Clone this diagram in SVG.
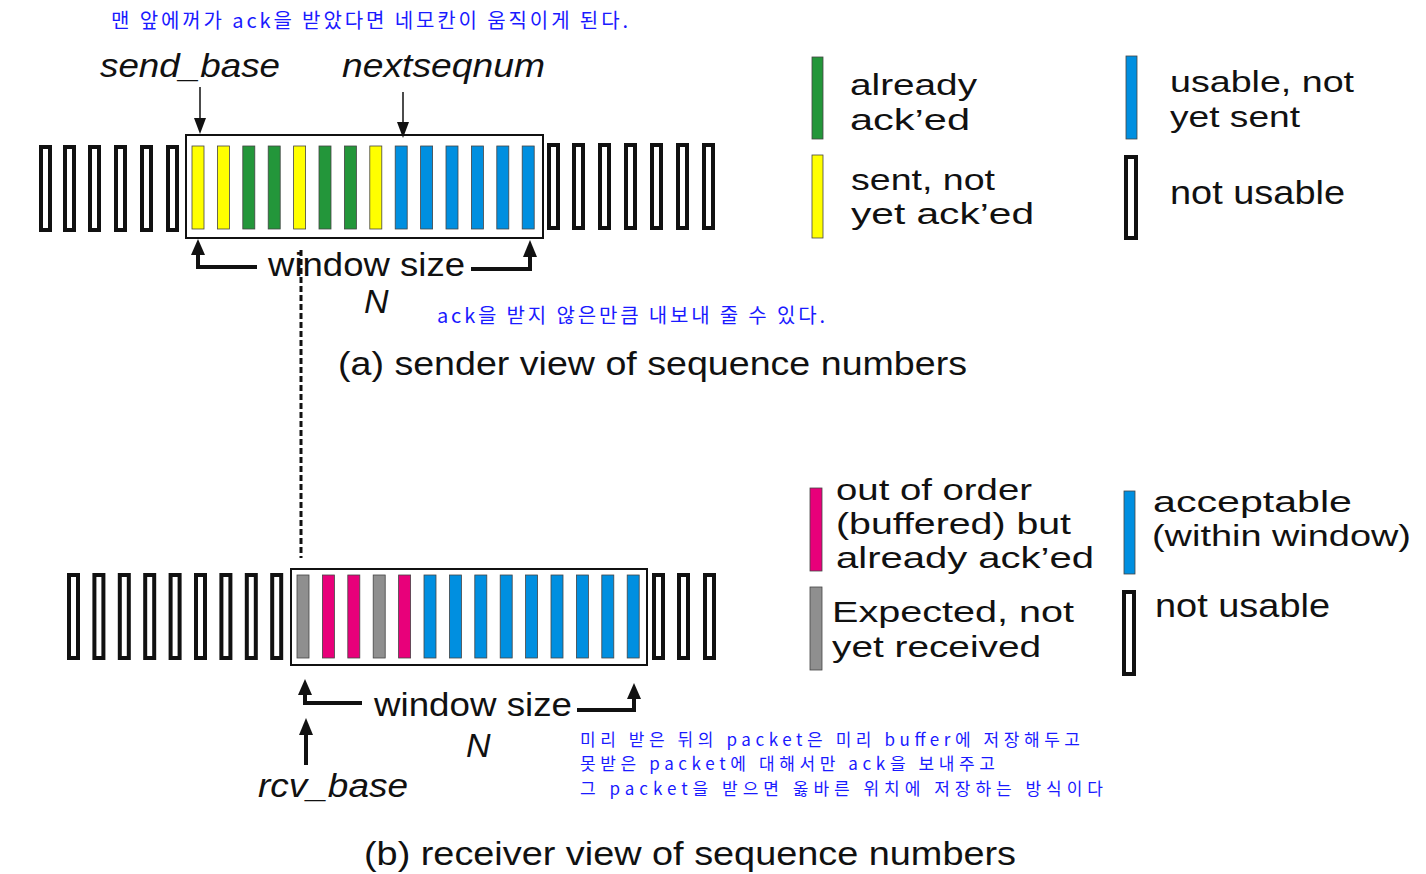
<svg xmlns="http://www.w3.org/2000/svg" width="1426" height="874" viewBox="0 0 1426 874">
<style>
.nu{fill:#fff;stroke:#111;stroke-width:4}
.c{stroke:#444;stroke-width:0.8}
.y{fill:#ffff00}.g{fill:#23963a}.b{fill:#008fe0}.p{fill:#e8007a}.gr{fill:#8f8f8f}
.win{fill:#fff;stroke:#111;stroke-width:2}
.t{font-family:"Liberation Sans",Arial,sans-serif;font-size:34px;fill:#111}
.lg{font-size:30px}
.it{font-style:italic}
.k{font-family:"Noto Sans CJK KR","Noto Sans",sans-serif;font-size:20px;fill:#1a1aff}
.ks{font-size:17px}
.thin{stroke:#111;stroke-width:1.5;fill:none}
.thick{stroke:#111;stroke-width:4;fill:none}
.head{fill:#111}
</style>

<!-- annotations -->
<g id="notes">
<text class="k" x="111" y="28" textLength="517" lengthAdjust="spacing">맨 앞에꺼가 ack을 받았다면 네모칸이 움직이게 된다.</text>
<text class="k" x="437" y="323" textLength="388" lengthAdjust="spacing">ack을 받지 않은만큼 내보내 줄 수 있다.</text>
<text class="k ks" x="580" y="746" textLength="500" lengthAdjust="spacing">미리 받은 뒤의 packet은 미리 buffer에 저장해두고</text>
<text class="k ks" x="580" y="770" textLength="415" lengthAdjust="spacing">못받은 packet에 대해서만 ack을 보내주고</text>
<text class="k ks" x="580" y="795" textLength="523" lengthAdjust="spacing">그 packet을 받으면 옳바른 위치에 저장하는 방식이다</text>
</g>

<!-- sender labels -->
<g id="sender-labels">
<text class="t it" x="100" y="77" textLength="180" lengthAdjust="spacingAndGlyphs">send_base</text>
<text class="t it" x="342" y="77" textLength="203" lengthAdjust="spacingAndGlyphs">nextseqnum</text>
<text class="t" x="268" y="276" textLength="197" lengthAdjust="spacingAndGlyphs">window size</text>
<text class="t it" x="364" y="313" font-size="32">N</text>
<text class="t" x="338" y="375" textLength="629" lengthAdjust="spacingAndGlyphs">(a) sender view of sequence numbers</text>
</g>

<!-- sender row -->
<g id="sender-row">
<rect class="nu" x="41" y="147" width="9" height="83"/>
<rect class="nu" x="65" y="147" width="9" height="83"/>
<rect class="nu" x="90" y="147" width="9" height="83"/>
<rect class="nu" x="116" y="147" width="9" height="83"/>
<rect class="nu" x="142" y="147" width="9" height="83"/>
<rect class="nu" x="168" y="147" width="9" height="83"/>
<rect class="win" x="186" y="135" width="357" height="103"/>
<rect class="c y" x="192" y="146" width="12" height="83"/>
<rect class="c y" x="217.4" y="146" width="12" height="83"/>
<rect class="c g" x="242.8" y="146" width="12" height="83"/>
<rect class="c g" x="268.2" y="146" width="12" height="83"/>
<rect class="c y" x="293.6" y="146" width="12" height="83"/>
<rect class="c g" x="319" y="146" width="12" height="83"/>
<rect class="c g" x="344.4" y="146" width="12" height="83"/>
<rect class="c y" x="369.8" y="146" width="12" height="83"/>
<rect class="c b" x="395.2" y="146" width="12" height="83"/>
<rect class="c b" x="420.6" y="146" width="12" height="83"/>
<rect class="c b" x="446" y="146" width="12" height="83"/>
<rect class="c b" x="471.4" y="146" width="12" height="83"/>
<rect class="c b" x="496.8" y="146" width="12" height="83"/>
<rect class="c b" x="522.2" y="146" width="12" height="83"/>
<rect class="nu" x="549" y="145" width="9" height="83"/>
<rect class="nu" x="574" y="145" width="9" height="83"/>
<rect class="nu" x="600" y="145" width="9" height="83"/>
<rect class="nu" x="626" y="145" width="9" height="83"/>
<rect class="nu" x="652" y="145" width="9" height="83"/>
<rect class="nu" x="678" y="145" width="9" height="83"/>
<rect class="nu" x="704" y="145" width="9" height="83"/>
</g>

<!-- sender legend -->
<g id="legend-sender">
<rect class="c g" x="812" y="57" width="11" height="82"/>
<text class="t lg" x="850" y="95" textLength="127" lengthAdjust="spacingAndGlyphs">already</text>
<text class="t lg" x="850" y="130" textLength="120" lengthAdjust="spacingAndGlyphs">ack’ed</text>
<rect class="c y" x="812" y="155" width="11" height="83"/>
<text class="t lg" x="851" y="190" textLength="144" lengthAdjust="spacingAndGlyphs">sent, not</text>
<text class="t lg" x="851" y="224" textLength="183" lengthAdjust="spacingAndGlyphs">yet ack’ed</text>
<rect class="c b" x="1126" y="56" width="11" height="83"/>
<text class="t lg" x="1170" y="92" textLength="184" lengthAdjust="spacingAndGlyphs">usable, not</text>
<text class="t lg" x="1170" y="127" textLength="130" lengthAdjust="spacingAndGlyphs">yet sent</text>
<rect class="nu" x="1126" y="157" width="10" height="81"/>
<text class="t" x="1170" y="204" textLength="175" lengthAdjust="spacingAndGlyphs">not usable</text>
</g>

<!-- receiver row -->
<g id="receiver-row">
<rect class="nu" x="69" y="575" width="9" height="83"/>
<rect class="nu" x="94.4" y="575" width="9" height="83"/>
<rect class="nu" x="119.8" y="575" width="9" height="83"/>
<rect class="nu" x="145.2" y="575" width="9" height="83"/>
<rect class="nu" x="170.6" y="575" width="9" height="83"/>
<rect class="nu" x="196" y="575" width="9" height="83"/>
<rect class="nu" x="221.4" y="575" width="9" height="83"/>
<rect class="nu" x="246.8" y="575" width="9" height="83"/>
<rect class="nu" x="272.2" y="575" width="9" height="83"/>
<rect class="win" x="291" y="569" width="356" height="96"/>
<rect class="c gr" x="297" y="575" width="12" height="83"/>
<rect class="c p" x="322.4" y="575" width="12" height="83"/>
<rect class="c p" x="347.8" y="575" width="12" height="83"/>
<rect class="c gr" x="373.2" y="575" width="12" height="83"/>
<rect class="c p" x="398.6" y="575" width="12" height="83"/>
<rect class="c b" x="424" y="575" width="12" height="83"/>
<rect class="c b" x="449.4" y="575" width="12" height="83"/>
<rect class="c b" x="474.8" y="575" width="12" height="83"/>
<rect class="c b" x="500.2" y="575" width="12" height="83"/>
<rect class="c b" x="525.6" y="575" width="12" height="83"/>
<rect class="c b" x="551" y="575" width="12" height="83"/>
<rect class="c b" x="576.4" y="575" width="12" height="83"/>
<rect class="c b" x="601.8" y="575" width="12" height="83"/>
<rect class="c b" x="627.2" y="575" width="12" height="83"/>
<rect class="nu" x="654" y="575" width="9" height="83"/>
<rect class="nu" x="679" y="575" width="9" height="83"/>
<rect class="nu" x="705" y="575" width="9" height="83"/>
</g>

<!-- receiver labels -->
<g id="receiver-labels">
<text class="t" x="374" y="716" textLength="198" lengthAdjust="spacingAndGlyphs">window size</text>
<text class="t it" x="466" y="757" font-size="32">N</text>
<text class="t it" x="258" y="797" textLength="150" lengthAdjust="spacingAndGlyphs">rcv_base</text>
<text class="t" x="364" y="865" textLength="652" lengthAdjust="spacingAndGlyphs">(b) receiver view of sequence numbers</text>
</g>

<!-- receiver legend -->
<g id="legend-receiver">
<rect class="c p" x="810" y="488" width="12" height="83"/>
<text class="t lg" x="836" y="500" textLength="196" lengthAdjust="spacingAndGlyphs">out of order</text>
<text class="t lg" x="836" y="534" textLength="235" lengthAdjust="spacingAndGlyphs">(buffered) but</text>
<text class="t lg" x="836" y="568" textLength="258" lengthAdjust="spacingAndGlyphs">already ack’ed</text>
<rect class="c gr" x="810" y="587" width="12" height="83"/>
<text class="t lg" x="832" y="622" textLength="242" lengthAdjust="spacingAndGlyphs">Expected,  not</text>
<text class="t lg" x="832" y="657" textLength="209" lengthAdjust="spacingAndGlyphs">yet received</text>
<rect class="c b" x="1124" y="491" width="11" height="83"/>
<text class="t lg" x="1153" y="512" textLength="199" lengthAdjust="spacingAndGlyphs">acceptable</text>
<text class="t lg" x="1152" y="546" textLength="259" lengthAdjust="spacingAndGlyphs">(within window)</text>
<rect class="nu" x="1124" y="592" width="10" height="82"/>
<text class="t" x="1155" y="617" textLength="175" lengthAdjust="spacingAndGlyphs">not usable</text>
</g>

<!-- connectors -->
<g id="connectors">
<line class="thin" x1="200" y1="87" x2="200" y2="120"/>
<polygon class="head" points="194,118 206,118 200,134"/>
<line class="thin" x1="403" y1="92" x2="403" y2="124"/>
<polygon class="head" points="397,122 409,122 403,138"/>
<path class="thick" d="M257,267 H198 V252"/>
<polygon class="head" points="191,255 205,255 198,239"/>
<path class="thick" d="M471,269 H530 V254"/>
<polygon class="head" points="523,257 537,257 530,240"/>
<line x1="301" y1="250" x2="301" y2="558" stroke="#111" stroke-width="3" stroke-dasharray="6 3"/>
<path class="thick" d="M362,703 H305 V692"/>
<polygon class="head" points="298,695 312,695 305,679"/>
<path class="thick" d="M577,710 H634 V697"/>
<polygon class="head" points="627,699 641,699 634,683"/>
<line class="thick" x1="306" y1="765" x2="306" y2="732"/>
<polygon class="head" points="299,735 313,735 306,718"/>
</g>
</svg>
